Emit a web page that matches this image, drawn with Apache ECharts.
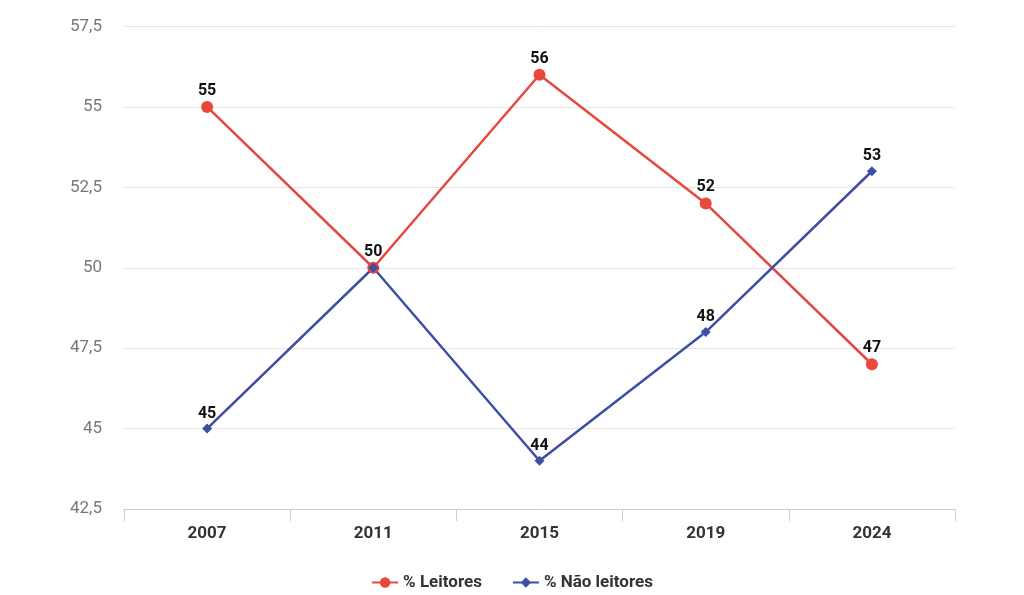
<!DOCTYPE html>
<html><head><meta charset="utf-8">
<script src="https://cdn.jsdelivr.net/npm/echarts@6/dist/echarts.min.js"></script>
<style>html,body{margin:0;padding:0;background:#fff}#c{width:1024px;height:595px}</style>
</head><body><div id="c"></div>
<script>
const categories = ['2007','2011','2015','2019','2024'];
const leitores = [55, 50, 56, 52, 47];
const naoLeitores = [45, 50, 44, 48, 53];
const seriesNames = ['% Leitores', '% Não leitores'];

const chart = echarts.init(document.getElementById('c'));
const lbl = {show:true, position:'top', color:'#111', fontWeight:'bold', fontSize:16, fontFamily:'Roboto', distance:2};
chart.setOption({
  animation:false,
  textStyle:{fontFamily:'Roboto'},
  grid:{left:124, right:69, top:26.5, bottom:86},
  legend:{bottom:-1, left:'center', itemGap:30, itemWidth:26, itemHeight:13,
    textStyle:{fontSize:17, color:'#333', fontWeight:'bold', fontFamily:'Roboto'},
    data:seriesNames},
  xAxis:{type:'category', data:categories, boundaryGap:true,
    axisLine:{lineStyle:{color:'#c5d0de'}},
    axisTick:{show:true, length:12, lineStyle:{color:'#c5d0de'}},
    axisLabel:{color:'#333', fontWeight:'bold', fontSize:17, margin:16}},
  yAxis:{type:'value', min:42.5, max:57.5, interval:2.5,
    axisLine:{show:false}, axisTick:{show:false},
    splitLine:{lineStyle:{color:'#e6e6e6'}},
    axisLabel:{color:'#777', fontSize:17, margin:22,
      formatter:v=>String(v).replace('.',',')}},
  series:[
    {name:seriesNames[0], type:'line', data:leitores, symbol:'circle', symbolSize:12,
      color:'#e8473d', lineStyle:{width:2.5, color:'#e8473d'}, itemStyle:{color:'#e8473d'}, label:lbl,
      labelLayout:{hideOverlap:true}},
    {name:seriesNames[1], type:'line', data:naoLeitores, symbol:'diamond', symbolSize:10,
      color:'#3d4fa3', lineStyle:{width:2.5, color:'#3d4fa3'}, itemStyle:{color:'#3d4fa3'}, label:lbl,
      labelLayout:{hideOverlap:true}}
  ]
});
</script></body></html>
